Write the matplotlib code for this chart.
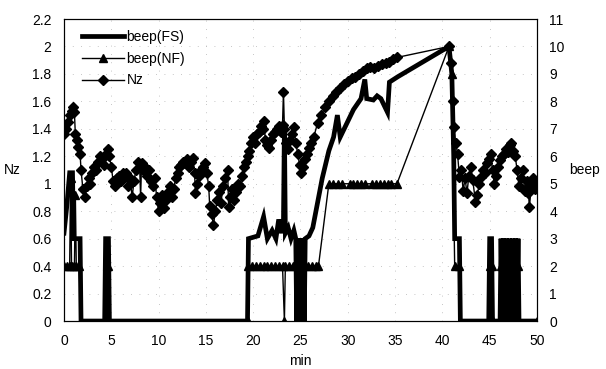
import numpy as np
import matplotlib
matplotlib.use('Agg')
import matplotlib.pyplot as plt
from matplotlib.lines import Line2D
plt.rcParams.update({'font.size': 10, 'font.family': ['Liberation Sans', 'DejaVu Sans']})

# Nz (left axis)
nz_t = [0.0, 0.2, 0.4, 0.6, 0.8, 1.0, 1.1, 1.2, 1.4, 1.5, 1.7, 1.8, 2.0, 2.2, 2.4, 2.6, 2.8,
        3.0, 3.2, 3.4, 3.6, 3.8, 4.0, 4.2, 4.4, 4.6, 4.8, 5.0, 5.2, 5.4, 5.6, 5.8, 6.0, 6.2,
        6.4, 6.6, 6.8, 7.0, 7.2, 7.4, 7.6, 7.8, 8.0, 8.1, 8.2, 8.4, 8.6, 8.8, 9.0, 9.2, 9.4,
        9.6, 9.8, 10.0, 10.2, 10.4, 10.6, 10.8, 11.0, 11.2, 11.4, 11.6, 11.8, 12.0, 12.2,
        12.4, 12.6, 12.8, 13.0, 13.2, 13.4, 13.6, 13.8, 13.9, 14.1, 14.3, 14.5, 14.7, 14.9,
        15.1, 15.3, 15.4, 15.6, 15.8, 16.0, 16.2, 16.4, 16.6, 16.8, 17.0, 17.3, 17.4, 17.6,
        17.8, 18.0, 18.2, 18.4, 18.6, 18.8, 19.0, 19.2, 19.4, 19.6, 19.8, 20.0, 20.2, 20.4,
        20.6, 20.8, 21.0, 21.1, 21.3, 21.5, 21.7, 21.9, 22.1, 22.3, 22.5, 22.7, 22.9, 23.1,
        23.2, 23.3, 23.5, 23.7, 23.9, 24.1, 24.3, 24.5, 24.7, 24.9, 25.1, 25.3, 25.5, 25.7,
        25.9, 26.1, 26.4, 26.8, 27.2, 27.6, 28.0, 28.4, 28.8, 29.2, 29.6, 30.0, 30.4, 30.8,
        31.2, 31.6, 32.0, 32.4, 32.8, 33.2, 33.6, 34.0, 34.4, 34.8, 35.2, 40.7, 40.9, 41.1,
        41.2, 41.4, 41.6, 41.8, 42.0, 42.2, 42.4, 42.6, 42.8, 43.0, 43.2, 43.5, 43.7, 43.9,
        44.1, 44.3, 44.5, 44.7, 44.9, 45.1, 45.3, 45.5, 45.7, 45.9, 46.1, 46.3, 46.5, 46.7,
        46.9, 47.1, 47.3, 47.5, 47.7, 47.9, 48.1, 48.3, 48.5, 48.7, 48.9, 49.1, 49.2, 49.4,
        49.6, 49.8, 50.0]
nz_v = [1.36, 1.40, 1.45, 1.50, 1.53, 1.56, 1.52, 1.36, 1.32, 1.27, 1.22, 1.10, 0.96, 0.90,
        0.98, 1.04, 1.00, 1.08, 1.12, 1.10, 1.16, 1.20, 1.18, 1.14, 1.22, 1.25, 1.20, 1.12,
        1.02, 0.98, 1.04, 1.06, 1.02, 1.08, 1.05, 1.08, 0.98, 1.04, 0.90, 1.02, 1.10, 1.16,
        1.12, 0.90, 1.15, 1.10, 1.12, 1.06, 1.10, 1.02, 0.98, 1.04, 0.90, 0.80, 0.86, 0.92,
        0.82, 0.88, 0.94, 0.98, 0.90, 0.96, 1.04, 1.08, 1.12, 1.14, 1.16, 1.15, 1.18, 1.12,
        1.16, 1.19, 1.08, 0.93, 1.00, 1.06, 1.10, 1.12, 1.15, 1.08, 0.98, 0.84, 0.78, 0.70,
        0.80, 0.88, 0.94, 0.86, 0.98, 1.04, 1.10, 0.83, 0.90, 0.96, 0.88, 0.94, 1.00, 0.98,
        1.06, 1.12, 1.16, 1.20, 1.24, 1.30, 1.34, 1.30, 1.36, 1.38, 1.42, 1.40, 1.46, 1.32,
        1.28, 1.26, 1.32, 1.36, 1.38, 1.40, 1.42, 1.38, 1.43, 1.67, 1.40, 1.30, 1.25, 1.32,
        1.36, 1.41, 1.30, 1.22, 1.14, 1.08, 1.12, 1.18, 1.22, 1.26, 1.30, 1.34, 1.44, 1.50,
        1.56, 1.60, 1.64, 1.67, 1.70, 1.73, 1.75, 1.77, 1.78, 1.80, 1.82, 1.84, 1.85, 1.84,
        1.86, 1.87, 1.88, 1.89, 1.91, 1.92, 2.00, 1.88, 1.60, 1.41, 1.30, 1.22, 1.05, 1.10,
        0.95, 1.04, 0.93, 1.06, 1.12, 1.03, 0.87, 0.92, 1.00, 1.05, 1.10, 1.08, 1.15, 1.18,
        1.22, 1.10, 1.00, 1.06, 1.12, 1.17, 1.20, 1.22, 1.25, 1.23, 1.28, 1.30, 1.24, 1.20,
        1.10, 0.98, 1.04, 1.10, 0.95, 1.02, 0.93, 0.83, 0.98, 1.04, 0.96, 1.00]

# beep(FS) (right axis)
fs_t = [0.0, 0.3, 0.6, 0.9, 1.0, 1.7, 1.8, 4.3, 4.4, 4.7, 4.8, 19.4, 19.5, 20.5, 21.1, 21.5,
        22.0, 22.4, 22.7, 23.0, 23.2, 23.3, 23.4, 23.7, 24.0, 24.3, 24.5, 24.6, 24.7, 24.8,
        24.9, 25.0, 25.1, 25.2, 25.3, 25.4, 25.5, 25.9, 26.3, 26.8, 27.3, 28.0, 28.5, 28.9,
        29.2, 29.9, 30.6, 31.4, 31.8, 32.0, 32.7, 33.1, 33.5, 34.2, 34.4, 35.3, 40.7, 41.0,
        41.2, 41.3, 41.8, 41.9, 44.9, 45.0, 45.2, 45.3, 46.1, 46.2, 46.35, 46.5, 46.65, 46.8,
        46.95, 47.1, 47.25, 47.4, 47.55, 47.7, 47.85, 48.0, 48.1, 50.0]
fs_v = [3.2, 4.2, 5.4, 5.4, 3.0, 3.0, 0, 0, 3.0, 3.0, 0, 0, 3.0, 3.1, 3.8, 3.0,
        3.3, 3.0, 3.7, 3.2, 3.6, 7.1, 3.2, 3.4, 3.0, 3.3, 3.0, 0, 3, 0,
        3, 0, 3, 0, 3, 0, 3.0, 3.1, 3.4, 4.3, 5.2, 6.2, 6.7, 7.5,
        6.7, 7.2, 7.7, 8.1, 8.8, 8.1, 8.05, 8.2, 8.1, 7.6, 8.7, 8.9, 10.0, 9.0,
        6.0, 3.0, 3.0, 0, 0, 3.0, 3.0, 0, 0, 3, 0, 3, 0, 3,
        0, 3, 0, 3, 0, 3, 0, 3, 0, 0]

# beep(NF) (right axis)
nf_t = [0.0, 0.3, 0.6, 0.7, 0.8, 1.1, 1.2, 1.3, 1.6, 1.8, 4.4, 4.5, 4.7, 4.8, 19.4, 19.5,
        19.9, 20.3, 20.7, 21.1, 21.5, 21.9, 22.3, 22.7, 23.1, 23.3, 23.4, 23.8, 24.2, 24.6,
        25.0, 25.4, 25.8, 26.2, 26.6, 26.9, 28.0, 28.4, 29.0, 29.4, 30.2, 30.6, 31.0, 31.4,
        31.8, 32.6, 33.0, 33.4, 33.8, 34.2, 34.6, 35.2, 40.7, 41.0, 41.3, 41.8, 41.9, 44.9,
        45.0, 45.2, 45.3, 46.1, 46.2, 46.35, 46.5, 46.65, 46.8, 46.95, 47.1, 47.25, 47.4,
        47.55, 47.7, 47.85, 48.0, 48.1, 50.0]
nf_v = [2, 2, 2, 5.2, 2, 2, 4.6, 2, 2, 0, 0, 2, 2, 0, 0, 2,
        2, 2, 2, 2, 2, 2, 2, 2, 2, 0, 2, 2, 2, 2,
        2, 2, 2, 2, 2, 2, 5, 5, 5, 5, 5, 5, 5, 5,
        5, 5, 5, 5, 5, 5, 5, 5, 10, 9, 2, 2, 0, 0,
        2, 2, 0, 0, 2, 0, 2, 0, 2, 0, 2, 0, 2,
        0, 2, 0, 2, 0, 0]

nz_ticks = [0, 0.2, 0.4, 0.6, 0.8, 1.0, 1.2, 1.4, 1.6, 1.8, 2.0, 2.2]
nz_labels = ['0', '0.2', '0.4', '0.6', '0.8', '1', '1.2', '1.4', '1.6', '1.8', '2', '2.2']
beep_ticks = list(range(0, 12))
x_ticks = [0, 5, 10, 15, 20, 25, 30, 35, 40, 45, 50]

fig = plt.figure(figsize=(6.06, 3.69), dpi=100)
ax = fig.add_axes([0.1056, 0.130, 0.7805, 0.8185])
ax2 = ax.twinx()

ax2.plot(fs_t, fs_v, color='k', lw=3.4, solid_joinstyle='miter')
ax2.plot(nf_t, nf_v, color='k', lw=1.0, marker='^', ms=5.5)
ax.plot(nz_t, nz_v, color='k', lw=1.0, marker='D', ms=5.5)

ax.set_xlim(0, 50)
ax.set_ylim(0, 2.2)
ax2.set_ylim(0, 11)
ax.set_xticks(x_ticks)
ax.set_yticks(nz_ticks)
ax.set_yticklabels(nz_labels)
ax2.set_yticks(beep_ticks)
ax.tick_params(length=0, pad=9)
ax2.tick_params(length=0, pad=9)
ax.grid(True, color='0.7', lw=0.6, linestyle=(0, (1, 9)))

ax.set_xlabel('min', labelpad=5)
ax.set_ylabel('Nz', rotation=0, labelpad=14, va='center')
ax2.set_ylabel('beep', rotation=0, labelpad=14, va='center')

handles = [Line2D([], [], color='k', lw=3.4),
           Line2D([], [], color='k', lw=1.0, marker='^', ms=5.5),
           Line2D([], [], color='k', lw=1.0, marker='D', ms=5.5)]
ax2.legend(handles, ['beep(FS)', 'beep(NF)', 'Nz'], loc='upper left', frameon=False,
           handlelength=3.0, borderaxespad=0.4, labelspacing=0.55, handletextpad=0.2,
           bbox_to_anchor=(0.015, 1.0))

fig.savefig('out.png', dpi=100)
